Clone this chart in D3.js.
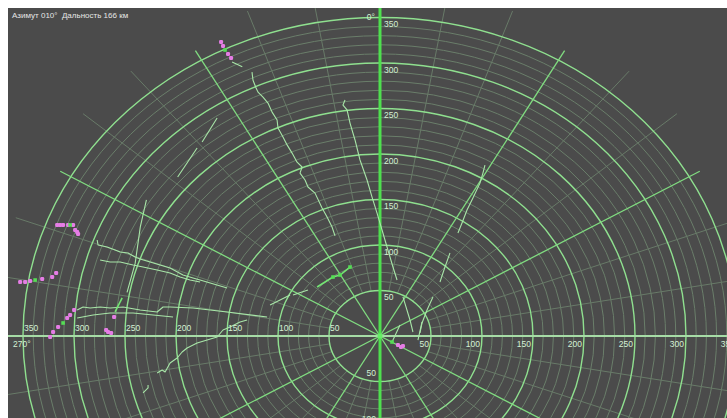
<!DOCTYPE html>
<html><head><meta charset="utf-8">
<script src="https://cdn.jsdelivr.net/npm/d3@7"></script>
<style>html,body{margin:0;padding:0;background:#fff;overflow:hidden}svg{display:block}</style>
</head><body><svg id="c" width="727" height="418"></svg>
<script>
// ---- data (ranges in km, azimuths in degrees, echo positions as [east km, north km]) ----
const title = "Азимут 010°\u00a0\u00a0Дальность 166 км";
const majorRings = [50, 100, 150, 200, 250, 300, 350];
const minorRings = [60, 70, 80, 90, 110, 120, 130, 140, 160, 170, 180, 190, 210, 220, 230, 240,
  260, 270, 280, 290, 310, 320, 330, 340];
const majorSpokes = [0, 30, 60, 90, 120, 150, 180, 210, 240, 270, 300, 330];
const minorSpokes = [10, 20, 40, 50, 70, 80, 100, 110, 130, 140, 160, 170, 190, 200, 220, 230,
  250, 260, 280, 290, 310, 320, 340, 350];
const upLabels = [50, 100, 150, 200, 250, 300, 350];
const downLabels = [50, 100];
const rightLabels = [50, 100, 150, 200, 250, 300, 350];
const leftLabels = [50, 100, 150, 200, 250, 300, 350];

const traces = [
  [[-145,301],[-135,296]],
  [[-125.5,290],[-124.5,281],[-121.5,272.5],[-119.6,268],[-114.7,262.6],[-109.8,256],[-105.8,246],
   [-100.9,237.4],[-100,228.6],[-95.1,218.7],[-91.1,210],[-86.2,201],[-81.3,191],[-76.4,185.7],
   [-78.4,179],[-73.5,171.4],[-70.6,163.7],[-63.7,157],[-56.8,140.7],[-51.9,130.8],[-47,119.8],[-44.1,110]],
  [[-34.3,259.3],[-36.3,253.8],[-32.3,248.4],[-29.4,234],[-24.5,215.4],[-19.6,193.4],[-12.7,171.4],
   [-7.8,152.7],[-2.9,135],[2,116.5],[6.9,97.8],[12.7,75.8],[16.7,61.5]],
  [[22.5,42.9],[29.4,17.6],[32.3,4.4]],
  [[102.9,187.9],[100.9,179],[98,168],[91.1,151.6],[85.3,138.5],[80.4,124.2],[76.4,113.2]],
  [[68.6,91.2],[63.7,75.8],[58.8,59.3]],
  [[51.9,42.9],[46.1,28.6],[41.2,14.3],[39.2,3.3]],
  [[19.6,12.1],[11.8,-6.6]],
  [[41.2,15.4],[37.2,-4.4]],
  [[-107.8,34.1],[-88.2,45.1]],
  [[-85.3,45.1],[-70.6,50.5]],
  [[-277.3,105.5],[-276.4,100],[-267.5,97.8],[-259.7,94.5],[-254.8,92.3],[-247,91.2],[-240.1,86.8],
   [-235.2,84.6],[-225.4,81.3],[-215.6,78],[-205.8,74.7],[-193.1,67],[-183.3,63.7],[-176.4,61.5],[-149.9,52.7]],
  [[-274.4,83.5],[-264.6,81.3],[-254.8,81.3],[-242.1,78],[-232.3,75.8],[-218.5,72.5],[-205.8,69.2],
   [-196,64.8],[-186.2,61.5],[-176.4,59.3]],
  [[-296.9,28.6],[-291.1,31.9],[-284.2,30.8],[-274.4,31.9],[-264.6,30.8],[-251.9,31.9],[-235.2,28.6],
   [-218.5,26.4],[-212.7,31.9],[-205.8,31.9],[-183.3,30.8],[-149.9,26.4],[-110.7,20.9]],
  [[-296.9,19.8],[-281.3,23.1],[-264.6,25.3],[-242.1,25.3],[-222.5,23.1],[-202.9,20.9]],
  [[-232.3,-62.6],[-227.4,-57.1],[-227.4,-53.8]],
  [[-218.5,-40.7],[-213.6,-37.4],[-210.7,-39.6],[-205.8,-29.7],[-198.9,-24.2],[-194,-17.6],[-189.1,-13.2],
   [-179.3,-7.7],[-169.5,-4.4],[-159.7,-1.1],[-153.9,6.6],[-147,9.9],[-137.2,15.4],[-130.3,17.6]],
  [[-159.7,239.6],[-174.4,213.2]],
  [[-179.3,206.6],[-198.4,174.7]],
  [[-229,149.5],[-235,120],[-240,80],[-248,48]]
];
const greenTracks = [
  [[-61.7,53.8],[-46.1,64.8],[-39.2,67],[-29.4,75.8]],
  [[-259.7,26.4],[-252.8,41.8]]
];
const targets = [
  [-155.8,323.1],[-153.9,318.7],[-149,309.9],[-146,305.5],
  [-316.5,122],[-313.6,122],[-310.7,122],[-305.8,122],[-300.9,122],[-298.9,116.5],[-296.9,114.3],[-296,112.1],
  [-352.8,59.3],[-347.9,59.3],[-343,60.4],[-331.2,62.6],[-321.4,64.8],[-317.5,69.2],
  [-323.4,-1.1],[-320.5,4.4],[-315.6,9.9],[-306.7,19.8],[-303.8,23.1],[-299.9,28.6],
  [-268.5,6.6],[-266.6,4.4],[-263.6,3.3],[-260.7,20.9],
  [17.6,-9.9],[20.6,-12.1],[22.5,-11]
];
const greenDots = [[-151.9,314.3],[-303.8,122],[-338.1,61.5],[-310.7,14.3],[11.8,-6.6],[-46.1,64.8],[-39.2,67],[-29.4,75.8]];

// ---- drawing ----
const W = 727, H = 418, cx = 380, cy = 336;
const x = d3.scaleLinear().domain([0, 100]).range([cx, cx + 102]);
const y = d3.scaleLinear().domain([0, 100]).range([cy, cy - 91]);
const rad = d => d * Math.PI / 180;
const px = (r, a) => x(r * Math.sin(rad(a)));
const py = (r, a) => y(r * Math.cos(rad(a)));

const svg = d3.select("#c");
svg.append("rect").attr("width", W).attr("height", H).attr("fill", "#ffffff");
svg.append("defs").append("clipPath").attr("id", "clip")
  .append("rect").attr("x", 8).attr("y", 8).attr("width", W - 8).attr("height", H - 8);
svg.append("rect").attr("x", 8).attr("y", 8).attr("width", W - 8).attr("height", H - 8).attr("fill", "#4b4b4b");
const g = svg.append("g").attr("clip-path", "url(#clip)");

g.selectAll(".minr").data(minorRings).join("ellipse")
  .attr("cx", cx).attr("cy", cy)
  .attr("rx", d => x(d) - cx).attr("ry", d => cy - y(d))
  .attr("fill", "none").attr("stroke", "#6a7e6a").attr("stroke-width", 1);
g.selectAll(".mins").data(minorSpokes).join("line")
  .attr("x1", d => px(50, d)).attr("y1", d => py(50, d))
  .attr("x2", d => px(380, d)).attr("y2", d => py(380, d))
  .attr("stroke", "#687a68").attr("stroke-width", 1);
g.selectAll(".majr").data(majorRings).join("ellipse")
  .attr("cx", cx).attr("cy", cy)
  .attr("rx", d => x(d) - cx).attr("ry", d => cy - y(d))
  .attr("fill", "none").attr("stroke", "#8fe08f").attr("stroke-width", 1.4);
g.selectAll(".majs").data(majorSpokes.filter(d => d % 90 !== 0)).join("line")
  .attr("x1", cx).attr("y1", cy)
  .attr("x2", d => px(362, d)).attr("y2", d => py(362, d))
  .attr("stroke", "#80dc80").attr("stroke-width", 1.3);
// axes
g.append("line").attr("x1", 8).attr("x2", W).attr("y1", cy).attr("y2", cy)
  .attr("stroke", "#a6dca6").attr("stroke-width", 2);
g.append("line").attr("x1", cx).attr("x2", cx).attr("y1", 8).attr("y2", H)
  .attr("stroke", "#4ee04e").attr("stroke-width", 3);

const line = d3.line().x(d => x(d[0])).y(d => y(d[1])).curve(d3.curveLinear);
g.selectAll(".tr").data(traces).join("path")
  .attr("d", line).attr("fill", "none").attr("stroke", "#a8e6a8").attr("stroke-width", 1.1)
  .attr("stroke-linejoin", "round");
g.selectAll(".gt").data(greenTracks).join("path")
  .attr("d", line).attr("fill", "none").attr("stroke", "#74e474").attr("stroke-width", 1.6);
g.selectAll(".tg").data(targets).join("rect")
  .attr("x", d => x(d[0]) - 2).attr("y", d => y(d[1]) - 2).attr("width", 4).attr("height", 4)
  .attr("rx", 1.2).attr("fill", "#e57de5");
g.selectAll(".gd").data(greenDots).join("rect")
  .attr("x", d => x(d[0]) - 1.8).attr("y", d => y(d[1]) - 1.8).attr("width", 3.6).attr("height", 3.6)
  .attr("fill", "#55dd55");
g.append("circle").attr("cx", cx).attr("cy", cy).attr("r", 2.5).attr("fill", "#66ee66");

// labels
const lab = g.append("g").attr("font-family", "Liberation Sans, Arial, sans-serif")
  .attr("font-size", 8.5).attr("fill", "#d4f0d4");
lab.selectAll(".u").data(upLabels).join("text")
  .attr("x", cx + 4).attr("y", d => y(d) + 9.5).text(d => d);
lab.selectAll(".d").data(downLabels).join("text").attr("text-anchor", "end")
  .attr("x", cx - 4).attr("y", d => y(-d) - 5.5).text(d => d);
lab.selectAll(".r").data(rightLabels).join("text").attr("text-anchor", "end")
  .attr("x", d => x(d) - 2).attr("y", cy + 11).text(d => d);
lab.selectAll(".l").data(leftLabels).join("text")
  .attr("x", d => x(-d) + 1).attr("y", cy - 5).text(d => d);
lab.append("text").attr("text-anchor", "end").attr("x", cx - 5).attr("y", y(350) + 2).text("0°");
lab.append("text").attr("x", 13).attr("y", cy + 11).text("270°");

svg.append("text").attr("x", 12).attr("y", 18)
  .attr("font-family", "Liberation Sans, Arial, sans-serif").attr("font-size", 8)
  .attr("fill", "#e6e6e6").text(title);
</script></body></html>
